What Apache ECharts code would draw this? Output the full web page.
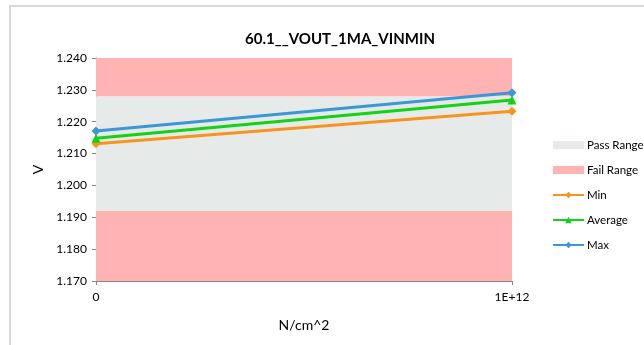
<!DOCTYPE html>
<html>
<head>
<meta charset="utf-8">
<script src="https://cdn.jsdelivr.net/npm/echarts@6/dist/echarts.min.js"></script>
<style>html,body{margin:0;padding:0;background:#fff;}#c{width:644px;height:345px;}</style>
</head>
<body>
<div id="c"></div>
<script>
const xValues = [0, 1e12];
const minValues = [1.2131, 1.2233];
const avgValues = [1.2148, 1.2268];
const maxValues = [1.2171, 1.2291];
const passRange = [1.192, 1.228];
const failLow = [1.170, 1.192];
const failHigh = [1.228, 1.240];
const yTicks = [1.170, 1.240, 0.010];
const xTickLabels = {0: '0', 1e12: '1E+12'};

const FONT = 'Lato, "Open Sans", sans-serif';
const chart = echarts.init(document.getElementById('c'));
const pair = (xs, ys) => xs.map((x, i) => [x, ys[i]]);

chart.setOption({
  animation: false,
  textStyle: {fontFamily: FONT},
  graphic: [{type: 'rect', shape: {x: 10, y: 6, width: 700, height: 400}, style: {fill: 'none', stroke: '#d9d9d9', lineWidth: 2}, silent: true}],
  title: {text: '60.1__VOUT_1MA_VINMIN', left: 335, top: 27, textAlign: 'center',
    textStyle: {fontFamily: FONT, fontSize: 15, fontWeight: 'bold', color: '#000'}},
  grid: {left: 96, right: 132, top: 58, bottom: 64},
  legend: {orient: 'vertical', left: 552, top: 139, padding: 0, itemWidth: 31, itemHeight: 8, itemGap: 13,
    textStyle: {fontFamily: FONT, fontSize: 11.5, color: '#000', padding: [0, 0, 0, -2]},
    data: [
      {name: 'Pass Range', icon: 'rect'},
      {name: 'Fail Range', icon: 'rect'},
      {name: 'Min'}, {name: 'Average'}, {name: 'Max'}
    ]},
  xAxis: {type: 'value', min: xValues[0], max: xValues[1], interval: 1e12,
    name: 'N/cm^2', nameLocation: 'middle', nameGap: 37,
    nameTextStyle: {fontFamily: FONT, fontSize: 14, color: '#000'},
    axisLine: {lineStyle: {color: '#868686'}}, axisTick: {show: true, length: 4, lineStyle: {color: '#868686'}},
    splitLine: {show: false},
    axisLabel: {fontFamily: FONT, fontSize: 12, color: '#000', margin: 10, formatter: v => xTickLabels[v] !== undefined ? xTickLabels[v] : ''}},
  yAxis: {type: 'value', min: yTicks[0], max: yTicks[1], interval: yTicks[2],
    name: 'V', nameLocation: 'middle', nameGap: 50, nameRotate: 90,
    nameTextStyle: {fontFamily: FONT, fontSize: 14, color: '#000'},
    axisLine: {show: true, lineStyle: {color: '#868686'}}, axisTick: {show: true, length: 4, lineStyle: {color: '#868686'}},
    splitLine: {show: false},
    axisLabel: {fontFamily: FONT, fontSize: 12, color: '#000', margin: 9, formatter: v => v.toFixed(3)}},
  series: [
    {name: 'Pass Range', type: 'line', data: [], itemStyle: {color: '#e6ebea'}, lineStyle: {color: '#e6ebea'},
      markArea: {silent: true, itemStyle: {color: '#e6ebea'}, data: [[{yAxis: passRange[0]}, {yAxis: passRange[1]}]]}},
    {name: 'Fail Range', type: 'line', data: [], itemStyle: {color: '#ffb3b3'}, lineStyle: {color: '#ffb3b3'},
      markArea: {silent: true, itemStyle: {color: '#ffb3b3'}, data: [
        [{yAxis: failLow[0]}, {yAxis: failLow[1]}],
        [{yAxis: failHigh[0]}, {yAxis: failHigh[1]}]]}},
    {name: 'Min', type: 'line', data: pair(xValues, minValues), symbol: 'diamond', symbolSize: 9,
      lineStyle: {width: 3, color: '#f7941e'}, itemStyle: {color: '#f7941e'}},
    {name: 'Average', type: 'line', data: pair(xValues, avgValues), symbol: 'triangle', symbolSize: 9,
      lineStyle: {width: 3, color: '#14d214'}, itemStyle: {color: '#14d214'}},
    {name: 'Max', type: 'line', data: pair(xValues, maxValues), symbol: 'diamond', symbolSize: 9,
      lineStyle: {width: 3, color: '#3c98d4'}, itemStyle: {color: '#3c98d4'}}
  ]
});
</script>
</body>
</html>
